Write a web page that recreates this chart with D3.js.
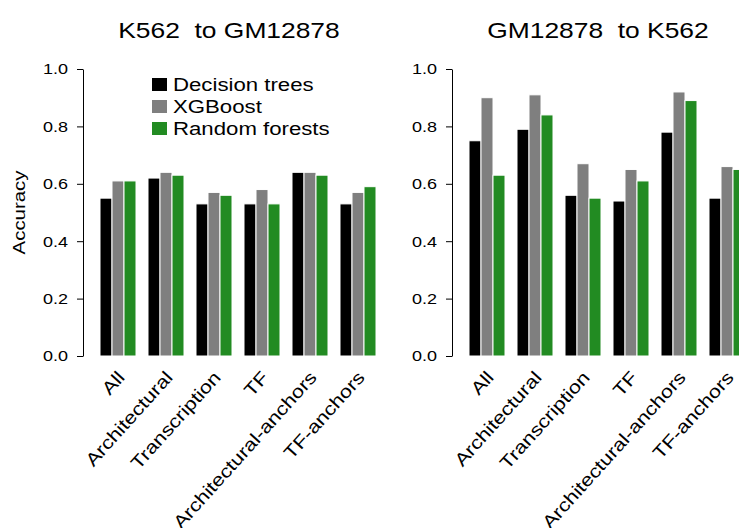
<!DOCTYPE html>
<html>
<head>
<meta charset="utf-8">
<script src="https://cdn.jsdelivr.net/npm/d3@7"></script>
<style>
  body { margin: 0; background: #fff; }
  text { font-family: "Liberation Sans", Arial, sans-serif; fill: #000; }
</style>
</head>
<body>
<div id="chart"></div>
<script>
// data
var categories = ["All", "Architectural", "Transcription", "TF", "Architectural-anchors", "TF-anchors"];
var methods = ["Decision trees", "XGBoost", "Random forests"];
var colors = ["#000000", "#7f7f7f", "#228b22"];
var titles = ["K562  to GM12878", "GM12878  to K562"];
var yTicks = [0, 0.2, 0.4, 0.6, 0.8, 1.0];

// K562 -> GM12878
var k562_dt = [0.55, 0.62, 0.53, 0.53, 0.64, 0.53];
var k562_xgb = [0.61, 0.64, 0.57, 0.58, 0.64, 0.57];
var k562_rf = [0.61, 0.63, 0.56, 0.53, 0.63, 0.59];
// GM12878 -> K562
var gm_dt = [0.75, 0.79, 0.56, 0.54, 0.78, 0.55];
var gm_xgb = [0.90, 0.91, 0.67, 0.65, 0.92, 0.66];
var gm_rf = [0.63, 0.84, 0.55, 0.61, 0.89, 0.65];

var width = 739, height = 528;
var stretch = 1.2; // text in the reference is drawn wide

var svg = d3.select("#chart").append("svg")
  .attr("width", width)
  .attr("height", height);

var y = d3.scaleLinear().domain([0, 1]).range([356, 69]);

function draw_panel(x0, title, series) {
  // one bar = one unit, groups of 3 bars + 1 gap
  var x = d3.scaleLinear().domain([0, 24]).range([x0, x0 + 288]);
  var g = svg.append("g");

  var ax = g.append("g")
    .attr("transform", "translate(" + (x0 - 5) + ",0)")
    .call(d3.axisLeft(y).tickValues(yTicks).tickFormat(d3.format(".1f"))
      .tickSize(6).tickSizeOuter(0));
  ax.select(".domain").attr("stroke", "#000");
  ax.selectAll(".tick line").attr("stroke", "#000");
  ax.selectAll(".tick text")
    .attr("x", 0)
    .attr("transform", "translate(-15,0) scale(" + stretch + ",1)")
    .style("font-size", "15px");

  series.forEach(function(vals, s) {
    g.selectAll(".bar" + s)
      .data(vals)
      .enter().append("rect")
      .attr("x", function(d, i) { return x(4 * i + 1 + s); })
      .attr("width", x(1) - x(0))
      .attr("y", function(d) { return y(d); })
      .attr("height", function(d) { return y(0) - y(d); })
      .attr("fill", colors[s])
      .attr("stroke", "#fff")
      .attr("stroke-width", 1);
  });

  g.selectAll(".xlab")
    .data(categories)
    .enter().append("text")
    .attr("text-anchor", "end")
    .attr("dy", "0.35em")
    .style("font-size", "18px")
    .attr("transform", function(d, i) {
      return "translate(" + (x(4 * i + 2.5) + 3) + ",374) rotate(-48) scale(" + stretch + ",1)";
    })
    .text(function(d) { return d; });

  g.append("text")
    .attr("text-anchor", "middle")
    .style("font-size", "22px")
    .style("white-space", "pre")
    .attr("transform", "translate(" + (x0 + 141) + ",38) scale(" + stretch + ",1)")
    .text(title);
}

draw_panel(88, titles[0], [k562_dt, k562_xgb, k562_rf]);
draw_panel(457, titles[1], [gm_dt, gm_xgb, gm_rf]);

svg.append("text")
  .attr("text-anchor", "middle")
  .style("font-size", "17px")
  .attr("transform", "translate(25,212.5) rotate(-90) scale(" + stretch + ",1)")
  .text("Accuracy");

// legend
var leg = svg.append("g");
methods.forEach(function(m, i) {
  var by = 91 + 22 * i;
  leg.append("rect")
    .attr("x", 152).attr("y", by - 13)
    .attr("width", 15).attr("height", 13)
    .attr("fill", colors[i]);
  leg.append("text")
    .style("font-size", "18.5px")
    .attr("transform", "translate(173," + by + ") scale(" + stretch + ",1)")
    .text(m);
});
</script>
</body>
</html>
